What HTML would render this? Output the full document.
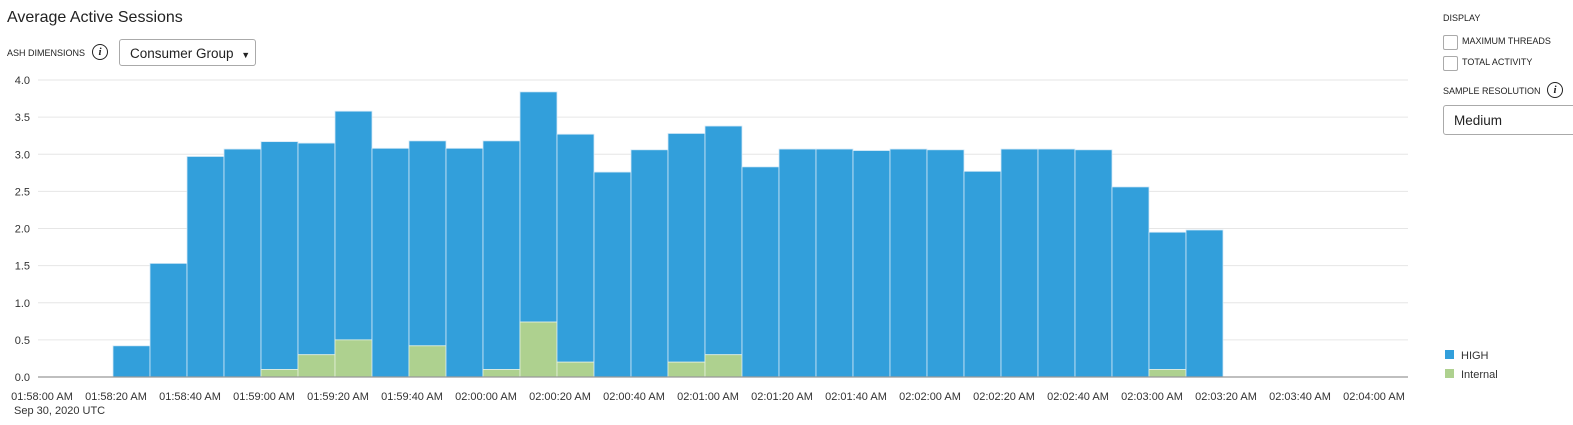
<!DOCTYPE html>
<html><head><meta charset="utf-8"><style>
body{margin:0;width:1573px;height:425px;background:#fff;font-family:"Liberation Sans",sans-serif;overflow:hidden;position:relative;color:#222}
.abs{position:absolute}
.cb{position:absolute;width:13px;height:13px;border:1px solid #aaa;border-radius:2px;background:#fff}
.info{position:absolute;width:14px;height:14px;border:1.5px solid #222;border-radius:50%;font:italic bold 11px "Liberation Serif",serif;text-align:center;line-height:14px}
</style></head><body>
<div class="abs" style="left:7px;top:9px;font-size:16px">Average Active Sessions</div>
<div class="abs" style="left:7px;top:48px;font-size:9px">ASH DIMENSIONS</div>
<div class="info" style="left:92px;top:44px">i</div>
<div class="abs" style="left:119px;top:39px;width:137px;height:27px;border:1px solid #aaa;border-radius:3px;font-size:13.5px;line-height:27px;box-sizing:border-box;padding-left:10px">Consumer Group <span style="font-size:9px;margin-left:4px">▼</span></div>

<div class="abs" style="left:1443px;top:13px;font-size:9px">DISPLAY</div>
<div class="cb" style="left:1443px;top:35px"></div>
<div class="abs" style="left:1462px;top:36px;font-size:9px">MAXIMUM THREADS</div>
<div class="cb" style="left:1443px;top:56px"></div>
<div class="abs" style="left:1462px;top:57px;font-size:9px">TOTAL ACTIVITY</div>
<div class="abs" style="left:1443px;top:86px;font-size:9px">SAMPLE RESOLUTION</div>
<div class="info" style="left:1547px;top:82px">i</div>
<div class="abs" style="left:1443px;top:105px;width:140px;height:30px;border:1px solid #aaa;border-radius:3px;font-size:13.5px;line-height:30px;box-sizing:border-box;padding-left:10px">Medium</div>

<svg class="abs" style="left:0;top:0" width="1573" height="425" id="chart"></svg>
<script>
const yTicks=[0,0.5,1,1.5,2,2.5,3,3.5,4];
const xLabels=["01:58:00 AM","01:58:20 AM","01:58:40 AM","01:59:00 AM","01:59:20 AM","01:59:40 AM","02:00:00 AM","02:00:20 AM","02:00:40 AM","02:01:00 AM","02:01:20 AM","02:01:40 AM","02:02:00 AM","02:02:20 AM","02:02:40 AM","02:03:00 AM","02:03:20 AM","02:03:40 AM","02:04:00 AM"];
const internalVals=[0,0,0,0,0.1,0.3,0.5,0,0.42,0,0.1,0.74,0.2,0,0,0.2,0.3,0,0,0,0,0,0,0,0,0,0,0,0.1,0];
const highVals=[0.42,1.53,2.97,3.07,3.07,2.85,3.08,3.08,2.76,3.08,3.08,3.10,3.07,2.76,3.06,3.08,3.08,2.83,3.07,3.07,3.05,3.07,3.06,2.77,3.07,3.07,3.06,2.56,1.85,1.98];
const firstBarSlot=2; // bars start at 01:58:20 (slot index in 10s units)
const svg=document.getElementById('chart');const NS='http://www.w3.org/2000/svg';
const y0=377,yPer=74.25,x0=39,slotW=37;
const yS=v=>y0-v*yPer, xS=i=>x0+i*slotW;
function mk(t,a){const e=document.createElementNS(NS,t);for(const k in a)e.setAttribute(k,a[k]);svg.appendChild(e);return e;}
yTicks.forEach(v=>{
 if(v>0){const g=mk('line',{x1:38,x2:1408,y1:yS(v),y2:yS(v),stroke:'#e6e6e6','stroke-width':1});
 
 }
 const t=mk('text',{x:30,y:yS(v)+4,'text-anchor':'end','font-size':11,fill:'#333'});t.textContent=v.toFixed(1);
 
 
});
highVals.forEach((h,i)=>{
 const x=xS(firstBarSlot+i),inn=internalVals[i];
 const b=mk('rect',{x:x,y:yS(inn+h),width:slotW,height:h*yPer,fill:'#329fdb',stroke:'#d4e9f7','stroke-width':0.8});
 
 
 if(inn>0){const r=mk('rect',{x:x,y:yS(inn),width:slotW,height:inn*yPer,fill:'#aed18f',stroke:'#e6f0dc','stroke-width':0.8});
 
 }
});
const ax=mk('line',{x1:38,x2:1408,y1:y0,y2:y0,stroke:'#999','stroke-width':1.2});


xLabels.forEach((l,i)=>{const t=mk('text',{x:xS(i*2)+3,y:400,'text-anchor':'middle','font-size':11,fill:'#333'});t.textContent=l;
 
 });
const d=mk('text',{x:14,y:414,'font-size':11,fill:'#333'});d.textContent='Sep 30, 2020 UTC';


[['HIGH','#329fdb',355],['Internal','#aed18f',374]].forEach(([n,c,y])=>{
 const r=mk('rect',{x:1445,y:y-5,width:9,height:9,fill:c});
 
 
 const t=mk('text',{x:1461,y:y+4,'font-size':11,fill:'#333'});t.textContent=n;
 
 
});
</script>
</body></html>
